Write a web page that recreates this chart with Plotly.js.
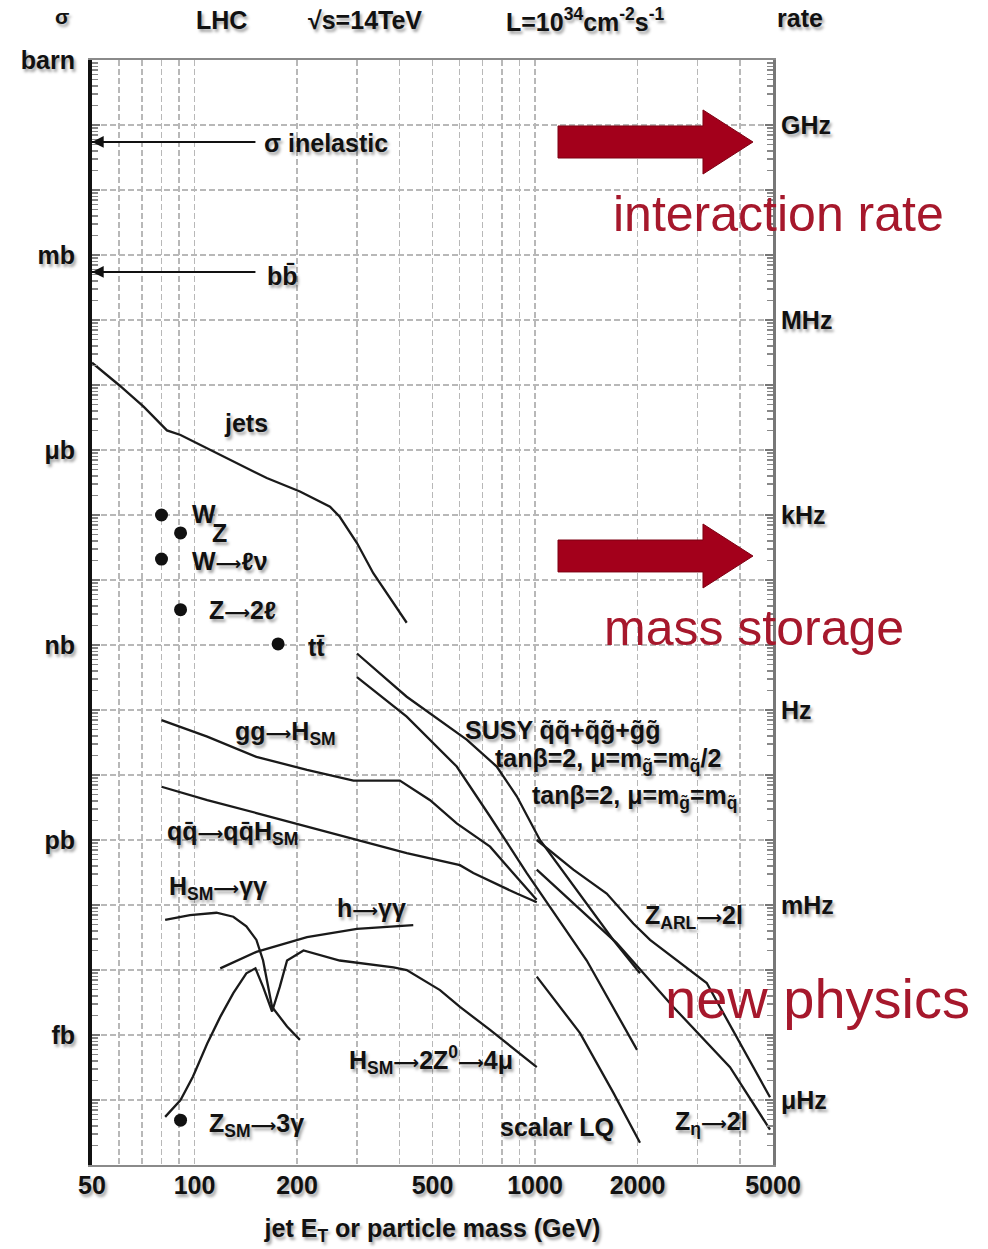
<!DOCTYPE html>
<html><head><meta charset="utf-8">
<script src="https://cdn.plot.ly/plotly-3.0.1.min.js"></script>
<style>html,body{margin:0;padding:0;background:#fff}#chart{width:988px;height:1249px}</style>
</head><body><div id="chart"></div>
<script>
// ---- data (E in GeV, sigma in barn) ----
const jetsE = [50, 60, 71, 83, 91, 119, 163, 204, 250, 267, 300, 335, 420];
const jetsS = [2.2e-5, 1.0e-5, 4.6e-6, 2.0e-6, 1.7e-6, 8.4e-7, 3.7e-7, 2.3e-7, 1.34e-7, 9.4e-8, 3.7e-8, 1.27e-8, 2.2e-9];

const ggHE = [80, 109, 152, 214, 293, 401, 492, 589, 738, 864, 1011];
const ggHS = [7.0e-11, 3.9e-11, 1.9e-11, 1.2e-11, 8.2e-12, 8.2e-12, 4.1e-12, 1.8e-12, 7.9e-13, 3.1e-13, 1.2e-13];

const qqHE = [80, 109, 152, 214, 300, 420, 602, 659, 884, 1012];
const qqHS = [6.6e-12, 4.1e-12, 2.6e-12, 1.6e-12, 1.0e-12, 6.3e-13, 4.1e-13, 3.1e-13, 1.5e-13, 1.1e-13];

const hggSME = [82, 97, 116, 130, 142, 152, 159, 165, 169, 187, 204];
const hggSMS = [5.9e-14, 7.0e-14, 7.6e-14, 6.6e-14, 4.7e-14, 2.9e-14, 1.4e-14, 5.5e-15, 2.7e-15, 1.35e-15, 8.4e-16];

const h4muE = [82, 91, 99, 109, 119, 130, 142, 151, 159, 169, 178, 187, 209, 267, 384, 420, 526, 602, 738, 1012];
const h4muS = [5.5e-17, 1.0e-16, 2.3e-16, 7.4e-16, 1.9e-15, 4.4e-15, 8.9e-15, 1.06e-14, 5.5e-15, 2.3e-15, 5.5e-15, 1.4e-14, 2.0e-14, 1.4e-14, 1.1e-14, 1.0e-14, 4.9e-15, 2.7e-15, 1.2e-15, 3.2e-16];

const hggE = [119, 152, 214, 300, 439];
const hggS = [1.06e-14, 1.9e-14, 3.2e-14, 4.3e-14, 4.9e-14];

const susyAE = [300, 420, 630, 772, 884, 1034, 1698, 2034];
const susyAS = [7.4e-10, 1.6e-10, 3.5e-11, 1.35e-11, 4.7e-12, 1.0e-12, 2.9e-14, 8.9e-15];

const susyBE = [300, 420, 589, 738, 946, 1419, 1994];
const susyBS = [3.2e-10, 7.9e-11, 1.35e-11, 2.3e-12, 3.1e-13, 1.4e-14, 5.9e-16];

const zarlE = [1012, 1296, 1624, 1944, 2177, 3194, 4900];
const zarlS = [1.0e-12, 3.5e-13, 1.5e-13, 5.2e-14, 2.9e-14, 6.3e-15, 1.1e-16];

const zetaE = [1012, 1738, 2548, 3739, 4900];
const zetaS = [3.5e-13, 2.6e-14, 2.7e-15, 3.2e-16, 3.5e-17];

const lqE = [1012, 1356, 1698, 2034];
const lqS = [7.9e-15, 1.07e-15, 1.3e-16, 2.2e-17];

const pointNames = ['W', 'Z', 'W→ℓν', 'Z→2ℓ', 'tt̄', 'Z→3γ'];
const pointE = [80, 91, 80, 91, 176, 91];
const pointS = [1.0e-7, 5.3e-8, 2.1e-8, 3.5e-9, 1.04e-9, 4.9e-17];

const arrowSpanE = [50, 151];
const sigmaInel = 0.055;
const sigmaBB = 5.5e-4;

const xTickVals = [50,60,70,80,90,100,200,300,400,500,600,700,800,900,1000,2000,3000,4000,5000];
const xTickLabels = ['50','','','','','100','200','','','500','','','','','1000','2000','','','5000'];
const yDecades = [0,-1,-2,-3,-4,-5,-6,-7,-8,-9,-10,-11,-12,-13,-14,-15,-16,-17];
const yUnitLabels = {0:'barn', '-3':'mb', '-6':'μb', '-9':'nb', '-12':'pb', '-15':'fb'};
const rateLabels = {'-1':'GHz', '-4':'MHz', '-7':'kHz', '-10':'Hz', '-13':'mHz', '-16':'μHz'};

// ---- styling / layout ----
const F = 'Liberation Sans, Arial, sans-serif';
const SH = '2px 3px 3px rgba(0,0,0,0.35)';
const L = 92, R = 773, T = 60, B = 1165;
const X = p => (p - L) / (R - L);
const Y = p => (B - p) / (B - T);
const AR = '<span style="font-family:DejaVu Sans;font-size:18px">⟶</span>';

const lineStyle = {color: '#1a1a1a', width: 2.3};
const curves = [
  [jetsE, jetsS], [ggHE, ggHS], [qqHE, qqHS], [hggSME, hggSMS], [h4muE, h4muS],
  [hggE, hggS], [susyAE, susyAS], [susyBE, susyBS], [zarlE, zarlS], [zetaE, zetaS], [lqE, lqS]
];
const traces = curves.map(c => ({x: c[0], y: c[1], mode: 'lines', line: lineStyle, hoverinfo: 'skip', showlegend: false}));
traces.push({x: pointE, y: pointS, text: pointNames, mode: 'markers', marker: {size: 13, color: '#111'}, showlegend: false, hoverinfo: 'text'});
[sigmaInel, sigmaBB].forEach(s => traces.push({
  x: arrowSpanE, y: [s, s], mode: 'lines', line: {color: '#111', width: 2},
  showlegend: false, hoverinfo: 'skip'
}));
traces.push({x: [50, 5000], y: [null, null], yaxis: 'y2', mode: 'lines', showlegend: false, hoverinfo: 'skip'});

const minorVals = [];
yDecades.forEach(d => { if (d < 0) for (let m = 2; m <= 9; m++) minorVals.push(m * Math.pow(10, d)); });

const tickFont = {family: F, size: 25, weight: 'bold', color: '#111', shadow: SH};

function lab(text, px, py, o) {
  return Object.assign({text: text, x: X(px), y: Y(py), xref: 'paper', yref: 'paper', showarrow: false,
    xanchor: 'left', yanchor: 'middle', font: Object.assign({}, tickFont)}, o || {});
}
const red = {family: F, size: 50, color: '#a6182c'};
function arrowAnn(s) {
  return {x: Math.log10(arrowSpanE[0]), y: Math.log10(s), xref: 'x', yref: 'y',
    ax: Math.log10(arrowSpanE[1]), ay: Math.log10(s), axref: 'x', ayref: 'y',
    text: '', showarrow: true, arrowhead: 2, arrowsize: 1.3, arrowwidth: 1.8, arrowcolor: '#111'};
}

const annotations = [
  arrowAnn(sigmaInel), arrowAnn(sigmaBB),
  lab('σ', 62, 17, {xanchor: 'center', font: Object.assign({}, tickFont, {size: 21})}),
  lab('LHC', 221, 20, {xanchor: 'center'}),
  lab('√s=14TeV', 365, 20, {xanchor: 'center'}),
  lab('L=10<sup>34</sup>cm<sup>-2</sup>s<sup>-1</sup>', 585, 20, {xanchor: 'center'}),
  lab('rate', 800, 18, {xanchor: 'center'}),
  lab('σ inelastic', 262, 143),
  lab('bb̄', 265, 276),
  lab('jets', 222, 423),
  lab('W', 190, 514),
  lab('Z', 210, 533),
  lab('W' + AR + 'ℓν', 190, 561),
  lab('Z' + AR + '2ℓ', 207, 610),
  lab('tt̄', 306, 647),
  lab('gg' + AR + 'H<sub>SM</sub>', 233, 733),
  lab('qq̄' + AR + 'qq̄H<sub>SM</sub>', 165, 833),
  lab('H<sub>SM</sub>' + AR + 'γγ', 167, 888),
  lab('h' + AR + 'γγ', 335, 908),
  lab('H<sub>SM</sub>' + AR + '2Z<sup>0</sup>' + AR + '4μ', 347, 1060),
  lab('Z<sub>SM</sub>' + AR + '3γ', 207, 1125),
  lab('scalar LQ', 498, 1127),
  lab('Z<sub>η</sub>' + AR + '2l', 673, 1123),
  lab('SUSY q̃q̃+q̃g̃+g̃g̃', 463, 730),
  lab('tanβ=2, μ=m<sub>g̃</sub>=m<sub>q̃</sub>/2', 493, 760),
  lab('tanβ=2, μ=m<sub>g̃</sub>=m<sub>q̃</sub>', 530, 797),
  lab('Z<sub>ARL</sub>' + AR + '2l', 643, 917),
  lab('interaction rate', 778, 214, {xanchor: 'center', font: red}),
  lab('mass storage', 754, 628, {xanchor: 'center', font: red}),
  lab('new physics', 817, 998, {xanchor: 'center', font: Object.assign({}, red, {size: 56})})
];

function arrowPath(x0, xb, xt, yc, hb, hh) {
  const p = (x, y) => X(x).toFixed(4) + ',' + Y(y).toFixed(4);
  return 'M' + p(x0, yc - hb) + ' L' + p(xb, yc - hb) + ' L' + p(xb, yc - hh) + ' L' + p(xt, yc) +
    ' L' + p(xb, yc + hh) + ' L' + p(xb, yc + hb) + ' L' + p(x0, yc + hb) + ' Z';
}
const shapes = [
  {type: 'path', xref: 'paper', yref: 'paper', path: arrowPath(558, 703, 753, 142, 16, 32), fillcolor: '#a3001b', line: {color: '#7d0012', width: 1}, layer: 'above'},
  {type: 'path', xref: 'paper', yref: 'paper', path: arrowPath(558, 703, 753, 556, 16, 32), fillcolor: '#a3001b', line: {color: '#7d0012', width: 1}, layer: 'above'}
];

const layout = {
  width: 988, height: 1249,
  margin: {l: L, r: 988 - R, t: T, b: 1249 - B, pad: 0},
  paper_bgcolor: '#fff', plot_bgcolor: '#fff',
  showlegend: false,
  xaxis: {
    type: 'log', range: [Math.log10(50), Math.log10(5000)],
    tickmode: 'array', tickvals: xTickVals, ticktext: xTickLabels,
    showgrid: true, gridcolor: '#b8b8b8', gridwidth: 1.5, griddash: '6px,3px',
    ticks: '', ticklabelstandoff: -3, tickfont: tickFont,
    showline: true, linecolor: '#8a8a8a', linewidth: 2, mirror: true, zeroline: false,
    title: {text: 'jet E<sub>T</sub> or particle mass (GeV)', font: tickFont, standoff: 21}
  },
  yaxis: {
    type: 'log', range: [-17, 0],
    tickmode: 'array', tickvals: yDecades.map(d => Math.pow(10, d)),
    ticktext: yDecades.map(d => yUnitLabels[d] || ''),
    showgrid: true, gridcolor: '#b8b8b8', gridwidth: 1.5, griddash: '6px,3px',
    ticks: 'inside', ticklen: 8, tickcolor: '#777', tickwidth: 1.5,
    minor: {tickmode: 'array', tickvals: minorVals, ticks: 'inside', ticklen: 6, tickcolor: '#888', tickwidth: 1.5, showgrid: false},
    ticklabelstandoff: 8, tickfont: tickFont,
    showline: true, linecolor: '#111', linewidth: 4, zeroline: false
  },
  yaxis2: {
    type: 'log', range: [-17, 0], overlaying: 'y', side: 'right',
    tickmode: 'array', tickvals: yDecades.map(d => Math.pow(10, d)),
    ticktext: yDecades.map(d => rateLabels[d] || ''),
    showgrid: false, ticks: 'inside', ticklen: 8, tickcolor: '#777', tickwidth: 1.5,
    minor: {tickmode: 'array', tickvals: minorVals, ticks: 'inside', ticklen: 6, tickcolor: '#888', tickwidth: 1.5, showgrid: false},
    ticklabelstandoff: 0, tickfont: tickFont,
    showline: true, linecolor: '#777', linewidth: 3, zeroline: false
  },
  annotations: annotations,
  shapes: shapes
};

Plotly.newPlot('chart', traces, layout, {staticPlot: true});
</script>
</body></html>
